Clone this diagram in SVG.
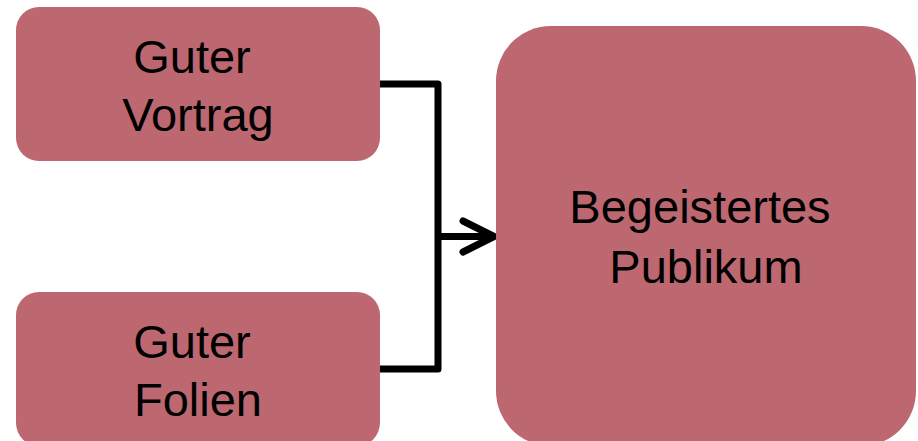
<svg xmlns="http://www.w3.org/2000/svg" width="918" height="441" viewBox="0 0 918 441">
<style>
.box{fill:#bd6771;}
.lbl{font-family:"Liberation Sans",Arial,sans-serif;font-size:47px;fill:#000;text-anchor:middle;}
.con{fill:none;stroke:#000;stroke-width:7;stroke-linejoin:round;}
</style>
<rect width="918" height="441" fill="#fff"/>
<g id="connectors">
<path class="con" d="M380 84 H438 V369 H380" stroke-linejoin="miter"/>
<path class="con" d="M438 236.5 H492"/>
<path class="con" d="M463 221 L494 236.5 L463 252" stroke-linecap="round"/>
</g>
<g id="n1">
<rect class="box" x="16" y="7" width="364" height="154" rx="23"/>
<text class="lbl" x="192" y="73">Guter</text>
<text class="lbl" x="198" y="131">Vortrag</text>
</g>
<g id="n2">
<rect class="box" x="16" y="292" width="364" height="154" rx="23"/>
<text class="lbl" x="192" y="358">Guter</text>
<text class="lbl" x="198" y="416">Folien</text>
</g>
<g id="n3">
<rect class="box" x="496" y="26" width="420" height="420" rx="55"/>
<text class="lbl" x="700" y="223">Begeistertes</text>
<text class="lbl" x="706" y="283">Publikum</text>
</g>
</svg>
